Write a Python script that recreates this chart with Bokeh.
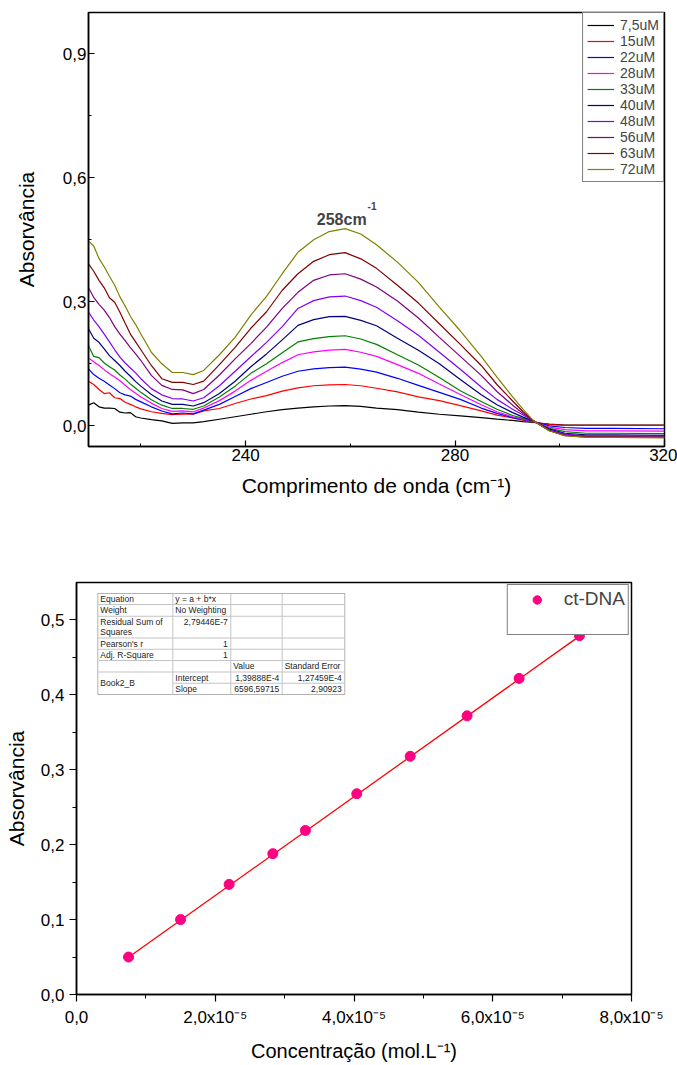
import numpy as np
from bokeh.plotting import figure
from bokeh.models import (Range1d, FixedTicker, CustomJSTickFormatter, Legend, LegendItem,
                          Label, BoxAnnotation)
from bokeh.layouts import column
from bokeh.embed import file_html
from bokeh.resources import INLINE

FONT = "Liberation Sans"

# ---------------- data: UV spectra (top chart) ----------------
wavelength = [210, 211, 212, 213, 214, 215, 216, 217, 218, 219, 220,
              222, 224, 226, 228, 230, 232,
              235, 238, 241, 244, 247, 250, 253, 256, 259,
              262, 265, 269, 273, 277, 281, 285, 288,
              291, 293, 295, 298, 301, 305, 310, 320]

abs_7_5uM = [0.050, 0.056, 0.046, 0.043, 0.043, 0.042, 0.033, 0.031, 0.032, 0.022, 0.019,
             0.015, 0.012, 0.006, 0.007, 0.007, 0.010,
             0.016, 0.022, 0.028, 0.034, 0.039, 0.043, 0.046, 0.048, 0.049,
             0.047, 0.043, 0.039, 0.033, 0.028, 0.024, 0.020, 0.016,
             0.013, 0.010, 0.008, 0.004, 0.002, 0.002, 0.002, 0.002]
abs_15uM = [0.108, 0.100, 0.088, 0.078, 0.080, 0.068, 0.066, 0.057, 0.052, 0.046, 0.041,
            0.034, 0.030, 0.027, 0.028, 0.028, 0.036,
            0.042, 0.054, 0.065, 0.073, 0.084, 0.092, 0.097, 0.099, 0.100,
            0.097, 0.091, 0.082, 0.070, 0.061, 0.049, 0.036, 0.026,
            0.019, 0.014, 0.009, 0.003, 0.001, 0.001, 0.001, 0.001]
abs_22uM = [0.138, 0.124, 0.115, 0.108, 0.099, 0.090, 0.080, 0.075, 0.072, 0.064, 0.058,
            0.046, 0.036, 0.029, 0.031, 0.029, 0.038,
            0.052, 0.071, 0.090, 0.105, 0.120, 0.132, 0.138, 0.141, 0.142,
            0.137, 0.130, 0.115, 0.098, 0.081, 0.064, 0.043, 0.030,
            0.020, 0.015, 0.010, 0.000, -0.004, -0.006, -0.006, -0.007]
abs_28uM = [0.164, 0.155, 0.146, 0.136, 0.126, 0.118, 0.109, 0.098, 0.088, 0.079, 0.070,
            0.055, 0.042, 0.035, 0.036, 0.034, 0.043,
            0.061, 0.084, 0.110, 0.132, 0.153, 0.172, 0.179, 0.183, 0.185,
            0.178, 0.168, 0.148, 0.127, 0.101, 0.076, 0.051, 0.034,
            0.022, 0.016, 0.010, -0.003, -0.009, -0.012, -0.012, -0.013]
abs_33uM = [0.194, 0.168, 0.165, 0.152, 0.143, 0.135, 0.123, 0.113, 0.101, 0.091, 0.081,
            0.063, 0.050, 0.042, 0.042, 0.040, 0.048,
            0.070, 0.096, 0.127, 0.150, 0.177, 0.203, 0.211, 0.216, 0.218,
            0.210, 0.197, 0.172, 0.147, 0.117, 0.085, 0.059, 0.040,
            0.025, 0.018, 0.011, -0.006, -0.014, -0.018, -0.018, -0.019]
abs_40uM = [0.235, 0.212, 0.202, 0.186, 0.170, 0.158, 0.146, 0.132, 0.120, 0.107, 0.096,
            0.076, 0.060, 0.052, 0.052, 0.048, 0.056,
            0.078, 0.108, 0.143, 0.174, 0.208, 0.243, 0.257, 0.264, 0.265,
            0.255, 0.242, 0.212, 0.183, 0.150, 0.112, 0.075, 0.051,
            0.032, 0.021, 0.011, -0.008, -0.018, -0.022, -0.022, -0.023]
abs_48uM = [0.275, 0.256, 0.240, 0.222, 0.203, 0.184, 0.166, 0.152, 0.140, 0.128, 0.114,
            0.090, 0.075, 0.066, 0.065, 0.060, 0.068,
            0.097, 0.132, 0.167, 0.202, 0.240, 0.284, 0.303, 0.312, 0.314,
            0.303, 0.287, 0.254, 0.219, 0.178, 0.137, 0.094, 0.064,
            0.040, 0.026, 0.012, -0.010, -0.020, -0.024, -0.024, -0.025]
abs_56uM = [0.334, 0.311, 0.294, 0.280, 0.262, 0.240, 0.222, 0.206, 0.189, 0.174, 0.158,
            0.122, 0.098, 0.088, 0.087, 0.078, 0.088,
            0.123, 0.162, 0.199, 0.239, 0.284, 0.323, 0.352, 0.365, 0.368,
            0.355, 0.336, 0.302, 0.261, 0.214, 0.168, 0.122, 0.083,
            0.050, 0.030, 0.012, -0.011, -0.022, -0.026, -0.026, -0.027]
abs_63uM = [0.392, 0.374, 0.352, 0.334, 0.310, 0.299, 0.275, 0.248, 0.222, 0.203, 0.184,
            0.146, 0.114, 0.105, 0.105, 0.100, 0.108,
            0.148, 0.190, 0.236, 0.276, 0.328, 0.368, 0.398, 0.414, 0.419,
            0.404, 0.381, 0.340, 0.297, 0.247, 0.197, 0.146, 0.100,
            0.060, 0.034, 0.012, -0.012, -0.024, -0.027, -0.027, -0.028]
abs_72uM = [0.447, 0.435, 0.405, 0.385, 0.362, 0.340, 0.312, 0.290, 0.265, 0.245, 0.222,
            0.178, 0.150, 0.129, 0.129, 0.124, 0.134,
            0.172, 0.214, 0.268, 0.313, 0.368, 0.420, 0.450, 0.470, 0.477,
            0.464, 0.438, 0.396, 0.347, 0.287, 0.230, 0.168, 0.118,
            0.070, 0.040, 0.012, -0.012, -0.024, -0.028, -0.028, -0.029]

series_labels = ["7,5uM", "15uM", "22uM", "28uM", "33uM", "40uM", "48uM", "56uM", "63uM", "72uM"]
series_values = [abs_7_5uM, abs_15uM, abs_22uM, abs_28uM, abs_33uM,
                 abs_40uM, abs_48uM, abs_56uM, abs_63uM, abs_72uM]
series_colors = ["#000000", "#FF0000", "#0000FF", "#FF00FF", "#008000",
                 "#000080", "#8000FF", "#800080", "#800000", "#808000"]

# ---------------- data: calibration (bottom chart) ----------------
concentration = [7.5e-6, 15.0e-6, 22.0e-6, 28.3e-6, 33.0e-6,
                 40.4e-6, 48.1e-6, 56.3e-6, 63.8e-6, 72.5e-6]
absorbance = [0.050, 0.100, 0.147, 0.188, 0.219, 0.268, 0.318, 0.372, 0.422, 0.479]
fit_intercept = 1.39888e-4
fit_slope = 6596.59715

table_cells = [
    ["Equation", "y = a + b*x", "", ""],
    ["Weight", "No Weighting", "", ""],
    ["Residual Sum of\nSquares", "2,79446E-7", "", ""],
    ["Pearson's r", "1", "", ""],
    ["Adj. R-Square", "1", "", ""],
    ["", "", "Value", "Standard Error"],
    ["Book2_B", "Intercept", "1,39888E-4", "1,27459E-4"],
    ["", "Slope", "6596,59715", "2,90923"],
]

comma_fmt = CustomJSTickFormatter(code="return tick.toFixed(1).replace('.', ',');")


def style_axes(p, tick_in, tick_out, minor_in, minor_out, standoff, size):
    for ax in (p.xaxis[0], p.yaxis[0]):
        ax.axis_line_color = "black"
        ax.axis_line_width = 1.5
        ax.major_tick_line_color = "black"
        ax.minor_tick_line_color = "black"
        ax.major_tick_line_width = 1.2
        ax.major_tick_in = tick_in
        ax.major_tick_out = tick_out
        ax.minor_tick_in = minor_in
        ax.minor_tick_out = minor_out
        ax.major_label_text_font = FONT
        ax.major_label_text_font_size = size
        ax.major_label_text_color = "black"
        ax.major_label_standoff = standoff
        ax.axis_label_text_font = FONT
        ax.axis_label_text_font_style = "normal"
        ax.axis_label_text_color = "black"
    p.xgrid.visible = False
    p.ygrid.visible = False
    p.outline_line_color = "black"
    p.outline_line_width = 1.5
    p.outline_line_alpha = 1.0
    if "frame_align" in p.properties():
        p.frame_align = False


# ================= top chart =================
p1 = figure(width=677, height=540, x_range=Range1d(210, 320), y_range=Range1d(-0.05, 1.0),
            output_backend="svg", toolbar_location=None,
            min_border_left=88, min_border_right=13, min_border_top=12, min_border_bottom=94)
style_axes(p1, 6, 0, 3, 0, 2, "17px")
p1.xaxis.ticker = FixedTicker(ticks=[240, 280, 320], minor_ticks=[220, 260, 300])
p1.yaxis.ticker = FixedTicker(ticks=[0.0, 0.3, 0.6, 0.9], minor_ticks=[0.15, 0.45, 0.75])
p1.yaxis.formatter = comma_fmt
p1.xaxis.axis_label = "Comprimento de onda (cm\u207b\u00b9)"
p1.xaxis.axis_label_text_font_size = "21px"
p1.xaxis.axis_label_standoff = 10
p1.yaxis.axis_label = "Absorvância"
p1.yaxis.axis_label_text_font_size = "21px"
p1.yaxis.axis_label_standoff = 22

items1 = []
for lab, ys, col in zip(series_labels, series_values, series_colors):
    r = p1.line(wavelength, ys, line_color=col, line_width=1.2)
    items1.append(LegendItem(label=lab, renderers=[r]))

leg1 = Legend(items=items1, location="top_right", margin=0, padding=4, spacing=0,
              glyph_width=27, glyph_height=16, label_height=16, label_standoff=6,
              label_text_font=FONT, label_text_font_size="14px",
              border_line_color="black", border_line_width=1,
              background_fill_color="white", background_fill_alpha=1.0)
p1.add_layout(leg1)

p1.add_layout(Label(x=253.6, y=0.499, text="258cm", text_font=FONT, text_font_style="bold",
                    text_font_size="16px", text_baseline="alphabetic", text_align="left"))
p1.add_layout(Label(x=263.3, y=0.532, text="-1", text_font=FONT, text_font_style="bold",
                    text_font_size="10px", text_baseline="alphabetic", text_align="left"))

# ================= bottom chart =================
p2 = figure(width=677, height=524, x_range=Range1d(0, 8e-5), y_range=Range1d(0, 0.55),
            output_backend="svg", toolbar_location=None,
            min_border_left=76, min_border_right=46, min_border_top=42, min_border_bottom=70)
style_axes(p2, 0, 7, 0, 4, 6, "17px")
p2.yaxis.major_label_standoff = 5
p2.xaxis.ticker = FixedTicker(ticks=[0, 2e-5, 4e-5, 6e-5, 8e-5], minor_ticks=[1e-5, 3e-5, 5e-5, 7e-5])
p2.yaxis.ticker = FixedTicker(ticks=[0.0, 0.1, 0.2, 0.3, 0.4, 0.5],
                              minor_ticks=[0.05, 0.15, 0.25, 0.35, 0.45])
p2.yaxis.formatter = comma_fmt
p2.xaxis.formatter = CustomJSTickFormatter(code="""
if (Math.abs(tick) < 1e-12) { return "0,0"; }
return (tick / 1e-5).toFixed(1).replace('.', ',') + "x10\u207b\u2075";
""")
p2.xaxis.axis_label = "Concentração (mol.L\u207b\u00b9)"
p2.xaxis.axis_label_text_font_size = "20px"
p2.xaxis.axis_label_standoff = 10
p2.yaxis.axis_label = "Absorvância"
p2.yaxis.axis_label_text_font_size = "21px"
p2.yaxis.axis_label_standoff = 10

fit_x = np.array([concentration[0], concentration[-1]])
fit_y = fit_intercept + fit_slope * fit_x
p2.line(fit_x, fit_y, line_color="#FF0000", line_width=1.3)
sc = p2.scatter(concentration, absorbance, size=10, marker="circle",
                fill_color="#FF0080", line_color="#FF0080")
blank = p2.scatter([], [], size=1, fill_alpha=0, line_alpha=0)

leg2 = Legend(items=[LegendItem(label="ct-DNA", renderers=[sc]),
                     LegendItem(label=" ", renderers=[blank])],
              location="top_right", margin=2, padding=3, spacing=0,
              glyph_width=52, glyph_height=21, label_height=21, label_standoff=1,
              label_text_font=FONT, label_text_font_size="19px",
              border_line_color="black", border_line_width=1.2,
              background_fill_color="white", background_fill_alpha=1.0)
p2.add_layout(leg2)

# ---- fit table (screen units, relative to the frame) ----
tbl_left = 21.3
tbl_top = 401.0
col_w = [75.0, 58.0, 51.4, 62.6]
row_h = [11.0, 11.7, 21.7, 11.3, 11.3, 11.4, 11.3, 11.3]
col_x = tbl_left + np.concatenate([[0.0], np.cumsum(col_w)])
row_y = tbl_top - np.concatenate([[0.0], np.cumsum(row_h)])

SCR = dict(left_units="screen", right_units="screen", top_units="screen", bottom_units="screen")
GRID = "#c4c4c4"


def hline(y, x0, x1, color=GRID):
    p2.add_layout(BoxAnnotation(left=x0, right=x1, top=y + 0.5, bottom=y - 0.5,
                                fill_color=color, fill_alpha=1.0, line_alpha=0, **SCR))


def vline(x, y0, y1, color=GRID):
    p2.add_layout(BoxAnnotation(left=x - 0.5, right=x + 0.5, top=y0, bottom=y1,
                                fill_color=color, fill_alpha=1.0, line_alpha=0, **SCR))


p2.add_layout(BoxAnnotation(left=col_x[0], right=col_x[-1], top=row_y[0], bottom=row_y[-1],
                            fill_color="white", fill_alpha=1.0, line_color="black",
                            line_width=1, **SCR))
for i in range(1, len(row_y) - 1):
    x0 = col_x[1] if i == 7 else col_x[0]
    hline(row_y[i], x0 + 0.5, col_x[-1] - 0.5)
for j in range(1, len(col_x) - 1):
    vline(col_x[j], row_y[0] - 0.5, row_y[-1] + 0.5)

for r, row in enumerate(table_cells):
    for c, txt in enumerate(row):
        if not txt:
            continue
        numeric = txt[0].isdigit()
        lines = txt.split("\n")
        if r == 6 and c == 0:
            y_first = (row_y[6] + row_y[8]) / 2
        else:
            y_first = row_y[r] - 5.6
        for k, line in enumerate(lines):
            if numeric:
                x, align = col_x[c + 1] - 3, "right"
            else:
                x, align = col_x[c] + 2.5, "left"
            p2.add_layout(Label(x=x, y=y_first - 10 * k, x_units="screen", y_units="screen",
                                text=line, text_align=align, text_baseline="middle",
                                text_font=FONT, text_font_size="8.5px", text_color="#222222"))

layout = column(p1, p2, spacing=0)
with open("out.html", "w", encoding="utf-8") as f:
    f.write(file_html(layout, INLINE))
